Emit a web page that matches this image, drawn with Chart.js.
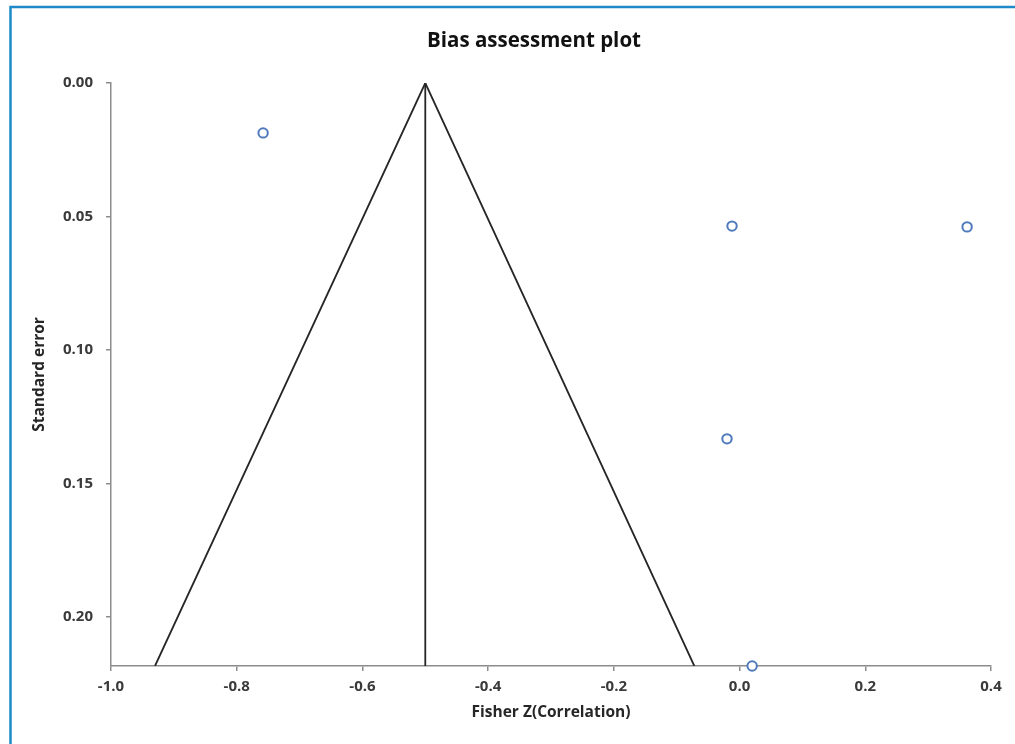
<!DOCTYPE html>
<html>
<head>
<meta charset="utf-8">
<title>Bias assessment plot</title>
<script src="https://cdn.jsdelivr.net/npm/chart.js@4/dist/chart.umd.min.js"></script>
<style>
  html, body { margin: 0; padding: 0; background: #ffffff; }
  #wrap { position: relative; width: 1015px; height: 744px; }
  canvas { display: block; }
</style>
</head>
<body>
<div id="wrap"><canvas id="funnel" width="1015" height="744"></canvas></div>
<script>
// Study effect sizes (Fisher Z) and their standard errors
const studyZ  = [-0.758, -0.012, 0.362, -0.020, 0.020];
const studySE = [0.0187, 0.0536, 0.0539, 0.1333, 0.2184];

// Pooled estimate and the funnel's 95% limits at the largest standard error
const pooledZ = -0.5;
const funnelZ  = [-0.930, -0.5, -0.072];
const funnelSE = [0.2184, 0, 0.2184];

// Axis ranges and tick labels
const seMax = 0.2184;
const xTickLabels = ['-1.0', '-0.8', '-0.6', '-0.4', '-0.2', '0.0', '0.2', '0.4'];
const yTickLabels = ['0.00', '0.05', '0.10', '0.15', '0.20'];
const chartTitle = 'Bias assessment plot';

const axisGrey = '#8c8c8c';
const labelGrey = '#3a3a3a';
const fontFamily = '"Open Sans", "DejaVu Sans", sans-serif';

const studyPoints = studyZ.map((z, i) => ({ x: z, y: studySE[i] }));
const funnelPoints = funnelZ.map((z, i) => ({ x: z, y: funnelSE[i] }));
const pooledLine = [{ x: pooledZ, y: 0 }, { x: pooledZ, y: seMax }];

// Pick the label whose number matches the tick value
const labelFor = (labels, v) => labels.find(l => Math.abs(parseFloat(l) - v) < 1e-6) ?? '';

// Heading, sitting a little right of the canvas centre, and the blue frame
// along the top and left edges of the figure
const decorPlugin = {
  id: 'decor',
  afterDraw(chart) {
    const ctx = chart.ctx;
    ctx.save();
    ctx.fillStyle = '#111111';
    ctx.font = 'bold 20.5px ' + fontFamily;
    ctx.textAlign = 'center';
    ctx.textBaseline = 'middle';
    ctx.fillText(chartTitle, 534, 41);

    ctx.strokeStyle = '#1e8bc8';
    ctx.lineWidth = 2.5;
    ctx.beginPath();
    ctx.moveTo(1015, 7);
    ctx.lineTo(10.5, 7);
    ctx.lineTo(10.5, 744);
    ctx.stroke();
    ctx.restore();
  }
};

new Chart(document.getElementById('funnel'), {
  type: 'scatter',
  data: {
    datasets: [
      {
        label: 'Funnel limits',
        data: funnelPoints,
        showLine: true,
        borderColor: '#262626',
        borderWidth: 1.8,
        pointRadius: 0,
        fill: false,
        order: 2
      },
      {
        label: 'Pooled estimate',
        data: pooledLine,
        showLine: true,
        borderColor: '#262626',
        borderWidth: 1.8,
        pointRadius: 0,
        fill: false,
        order: 2
      },
      {
        label: 'Studies',
        data: studyPoints,
        pointStyle: 'circle',
        pointRadius: 4.7,
        pointBorderWidth: 2,
        pointBorderColor: '#4f7bbd',
        pointBackgroundColor: '#ffffff',
        clip: false,
        order: 1
      }
    ]
  },
  options: {
    responsive: false,
    devicePixelRatio: 1,
    animation: false,
    events: [],
    layout: { padding: { left: 12, right: 24, top: 83, bottom: 0 } },
    plugins: {
      legend: { display: false },
      tooltip: { enabled: false },
      title: { display: false }
    },
    scales: {
      x: {
        type: 'linear',
        min: -1.0,
        max: 0.4,
        afterFit(scale) { scale.height = 78; },
        border: { display: true, color: axisGrey, width: 1.5 },
        grid: { display: true, drawOnChartArea: false, drawTicks: true, tickLength: 5, color: axisGrey, lineWidth: 1.5 },
        ticks: {
          stepSize: 0.2,
          padding: 7,
          color: labelGrey,
          font: { family: fontFamily, size: 15, weight: 'bold' },
          callback: v => labelFor(xTickLabels, v)
        },
        title: {
          display: true,
          text: 'Fisher Z(Correlation)',
          color: '#262626',
          font: { family: fontFamily, size: 15.5, weight: 'bold', lineHeight: 1.2 },
          padding: { top: 0, bottom: 22 }
        }
      },
      y: {
        type: 'linear',
        reverse: true,
        min: 0,
        max: seMax,
        afterFit(scale) { scale.width = 99; },
        border: { display: true, color: axisGrey, width: 1.5 },
        grid: { display: true, drawOnChartArea: false, drawTicks: true, tickLength: 5, color: axisGrey, lineWidth: 1.5 },
        ticks: {
          stepSize: 0.05,
          includeBounds: false,
          padding: 13,
          color: labelGrey,
          font: { family: fontFamily, size: 15, weight: 'bold' },
          callback: v => labelFor(yTickLabels, v)
        },
        title: {
          display: true,
          text: 'Standard error',
          color: '#262626',
          font: { family: fontFamily, size: 15.5, weight: 'bold', lineHeight: 1.2 },
          padding: { top: 18, bottom: 0 }
        }
      }
    }
  },
  plugins: [decorPlugin]
});
</script>
</body>
</html>
